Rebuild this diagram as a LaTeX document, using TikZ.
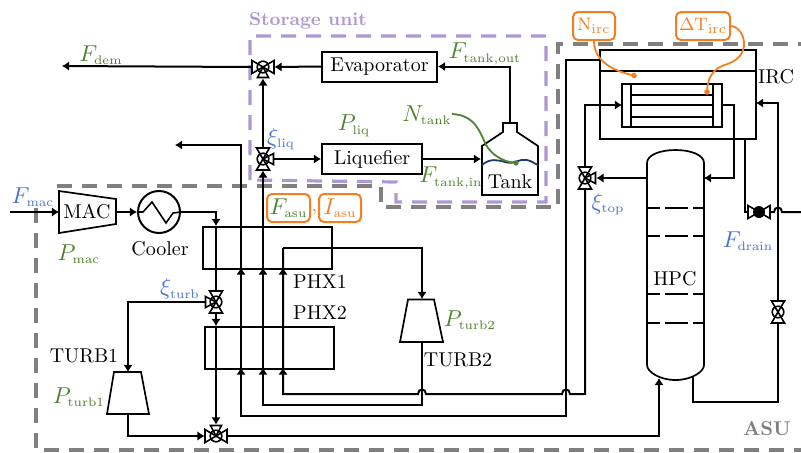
\RequirePackage{fix-cm}
\documentclass[tikz,border=0pt]{standalone}
\usetikzlibrary{arrows.meta,calc}
\DeclareMathSizes{10}{11.5}{6.2}{5}
\DeclareMathSizes{9}{9}{6.6}{5}
\definecolor{cblue}{HTML}{4A74CC}
\definecolor{cgreen}{HTML}{4F8231}
\definecolor{corange}{HTML}{F57F20}
\definecolor{cpurple}{HTML}{AE98D3}
\definecolor{cgray}{HTML}{808080}
\definecolor{cnavy}{HTML}{1F3A6B}
\tikzset{
  flow/.style={line width=1pt,-{Latex[length=3.6pt,width=4.8pt]}},
  plain/.style={line width=1pt},
  thin line/.style={line width=.75pt},
  boxnode/.style={draw,line width=1pt,inner sep=0pt,minimum height=15pt},
  valvenode/.style={circle,inner sep=0pt,minimum size=11pt},
  valveline/.style={line width=.8pt,fill=white},
  lbl/.style={inner sep=0pt},
  grn/.style={lbl,text=cgreen},
  blu/.style={lbl,text=cblue},
  org/.style={lbl,text=corange},
  obox/.style={draw=corange,line width=1pt,rounded corners=2.5pt,inner sep=0pt,minimum height=14pt},
  smallmath/.style={font=\fontsize{9}{11}\selectfont},
  asuline/.style={draw=cgray,line width=1.6pt,dash pattern=on 7.5pt off 5pt},
  stline/.style={draw=cpurple,line width=1.6pt,dash pattern=on 7.5pt off 5pt},
}
\newcommand{\valvetie}[2]{\begin{scope}[shift={(#1)},rotate=#2]
  \filldraw[valveline] (0,0)--(11,-6.5)--(11,6.5)--cycle;
  \filldraw[valveline] (0,0)--(-11,-6.5)--(-11,6.5)--cycle;
  \end{scope}}
\newcommand{\portv}[2]{\begin{scope}[shift={(#1)},rotate=#2]
  \filldraw[valveline] (0,0)--(10.5,-5.5)--(10.5,5.5)--cycle;
  \end{scope}}
\newcommand{\valvedisc}[1]{\draw[line width=.8pt] (#1) circle[radius=5.8];}
\begin{document}
\begin{tikzpicture}[x=.5pt,y=-.5pt]
\useasboundingbox (0,0) rectangle (801,452);
\begin{scope}
\clip (0,0) rectangle (801,452);
% enclosures
\draw[asuline] (57,186) -- (381,186) -- (381,207) -- (558,207) -- (558,44) -- (801,44);
\draw[asuline] (36,208) -- (36,450) -- (801,450);
\draw[stline] (250,180) -- (250,36) -- (546,36) -- (546,202) -- (396,202) -- (396,182) -- (250,180);
\node[lbl,text=cpurple,font=\fontsize{9.2}{11}\selectfont\bfseries] (storage) at (308,21) {Storage unit};
\node[lbl,text=cgray,font=\bfseries] (asu) at (767,429) {ASU};

% named nodes
\node[boxnode,minimum width=57.5pt] (evap) at (379.5,66.5) {Evaporator};
\node[boxnode,minimum width=50pt] (liq) at (372,159) {Liquefier};
\node[valvenode] (v1) at (263,67) {};
\node[valvenode] (v2) at (263,159) {};
\node[valvenode] (v3) at (585,178) {};
\node[valvenode] (v4) at (216,302) {};
\node[valvenode] (v5) at (216,436) {};
\node[valvenode] (v6) at (759,212) {};
\node[valvenode] (v7) at (778,312) {};
\node[circle,draw,line width=1pt,minimum size=21pt,inner sep=0pt] (cooler) at (159,212) {};
\coordinate (macW) at (59,212);
\coordinate (macE) at (116,212);
\coordinate (fmacin) at (10,212);
\coordinate (fdem) at (62,66);
\coordinate (fback) at (175,145);
\coordinate (tankW) at (481,159);
\coordinate (tankT) at (510,123);
\coordinate (t1top) at (128,372);
\coordinate (t1bot) at (128,414);
\coordinate (t2top) at (422,299);
\coordinate (t2bot) at (422,342);
\coordinate (ircL) at (600,60);
\coordinate (ircLow) at (745,139);
\coordinate (ircR) at (756,103);
\coordinate (hxL) at (622,105);
\coordinate (hxR) at (722,105);
\coordinate (hpcTL) at (647,178);
\coordinate (hpcTR) at (704,178);
\coordinate (hpcB1) at (659,378);
\coordinate (hpcB2) at (693,377);
\coordinate (edge) at (801,212);

% heat exchangers
\draw[line width=.8pt] (203,227) rectangle (332,269);
\draw[line width=.8pt] (205,327) rectangle (334,369);

% turbines, MAC
\draw[line width=.85pt] (59,191) -- (116,199) -- (116,224) -- (59,233) -- cycle;
\draw[line width=.85pt] (114,372) -- (141,372) -- (149,414) -- (107,414) -- cycle;
\draw[line width=.85pt] (408,299.5) -- (434,299.5) -- (443,342) -- (400,342) -- cycle;
\draw[line width=.8pt] (cooler.west) -- (143,212) -- (152,202) -- (166,223) -- (173,213) -- (cooler.east);

% connectors
\draw[flow] (fmacin) -- (macW);
\draw[flow] (macE) -- (cooler.west);
\draw[flow] (cooler.east) -- (216,212) -- (216,226);
\draw[plain] (216,226) -- (v4.north);
\draw[flow] (v4.south) -- (216,326);
\draw[flow] (216,326) -- (v5.north);
\draw[flow] (v4.west) -- (128,302) -- (t1top);
\draw[flow] (t1bot) -- (128,436) -- (v5.west);
\draw[flow] (v5.east) -- (659,436) -- (hpcB1);
\draw[flow] (v1.west) -- (fdem);
\draw[flow] (evap.west) -- (v1.east);
\draw[flow] (v2.north) -- (v1.south);
\draw[flow] (v2.east) -- (liq.west);
\draw[flow] (liq.east) -- (tankW);
\draw[flow] (tankT) -- (510,66.5) -- (evap.east);
\draw[flow] (t2bot) -- (422,405) -- (263,405) -- (v2.south);
\draw[flow] (ircL) -- (566,60) -- (566,415.5) -- (241,415.5) -- (241,145) -- (fback);
\draw[plain] (283,248) -- (283,394) -- (418,394) .. controls (418,388) and (426,388) .. (426,394)
   -- (562,394) .. controls (562,388) and (570,388) .. (570,394) -- (585,394) -- (v3.south);
\draw[flow] (283,248) -- (422,248) -- (t2top);
\draw[flow] (v3.north) -- (585,105) -- (hxL);
\draw[flow] (hxR) -- (734,105) -- (734,178) -- (hpcTR);
\draw[flow] (hpcTL) -- (v3.east);
\draw[plain] (ircLow) -- (745,212) -- (v6.west);
\draw[plain] (v6.east) -- (774,212) .. controls (774,206) and (782,206) .. (782,212) -- (edge);
\draw[flow] (v7.north) -- (778,103) -- (ircR);
\draw[plain] (v7.south) -- (778,402) -- (693,402) -- (hpcB2);

% tips on the exchanger edges
\foreach \px in {241,263,283} {
  \draw[flow] (\px,276) -- (\px,267.5);
  \draw[flow] (\px,378) -- (\px,367.5);
}

% valves
\valvetie{v1}{0}\portv{v1}{-90}\valvedisc{v1}
\valvetie{v2}{90}\portv{v2}{0}\valvedisc{v2}
\valvetie{v3}{90}\portv{v3}{0}\valvedisc{v3}
\valvetie{v4}{90}\portv{v4}{180}\valvedisc{v4}
\valvetie{v5}{0}\portv{v5}{90}\valvedisc{v5}
\valvetie{v6}{0}\fill (v6) circle[radius=6];
\valvetie{v7}{90}\valvedisc{v7}

% tank
\draw[line width=.85pt] (482,195) -- (482,146) -- (503,132) -- (503,123) -- (517,123) -- (517,132) -- (538,146) -- (538,195) -- cycle;
\draw[cnavy,line width=.9pt] (482,165) .. controls (490,158) and (498,160) .. (505,162) .. controls (514,165) and (520,158) .. (527,160) .. controls (532,161) and (535,164) .. (538,165);
\node[lbl] (tanktxt) at (510,182) {Tank};
\coordinate (ndot) at (516,163);
\coordinate (nstart) at (452,114);
\draw[cgreen,line width=.9pt] (nstart) .. controls (475,115) and (480,132) .. (486,145) .. controls (492,155) and (503,162) .. (ndot);
\fill[cgreen] (ndot) circle[radius=2.6];

% IRC
\draw[plain] (600,50) rectangle (756,71);
\draw[thin line] (600,71) -- (600,139) -- (756,139) -- (756,71);
\draw[plain] (622,84) rectangle (722,127);
\draw[plain] (631,84) -- (631,127);
\draw[plain] (713,84) -- (713,127);
\draw[thin line] (631,95) -- (713,95);
\draw[plain] (631,105) -- (713,105);
\draw[thin line] (631,117) -- (713,117);
\node[lbl] (irc) at (776,77) {IRC};

% HPC
\draw[line width=.85pt] (647,365) -- (647,163) .. controls (647,155) and (660,150) .. (675.5,150) .. controls (691,150) and (704,155) .. (704,163) -- (704,365) .. controls (704,372) and (691,380) .. (675.5,380) .. controls (660,380) and (647,372) .. (647,365) -- cycle;
\foreach \ty in {208,236,294,323} {
  \draw[line width=.85pt,dash pattern=on 11.5pt off 2.5pt,dash phase=5pt] (647,\ty) -- (704,\ty);
}
\node[lbl] (hpc) at (675,279) {HPC};

% labels
\node[lbl] (mac) at (87,212) {MAC};
\node[lbl] (coolertxt) at (160,249) {Cooler};
\node[lbl] (phx1) at (320,284) {\strut PHX1};
\node[lbl] (phx2) at (320,315) {\strut PHX2};
\node[lbl] (turb1) at (84,356) {TURB1};
\node[lbl] (turb2) at (458,360) {TURB2};
\node[grn] (l1) at (101,55) {$F_{\mathrm{dem}}$};
\node[blu] (l2) at (33,197) {$F_{\mathrm{mac}}$};
\node[grn] (l3) at (79,254) {$P_{\mathrm{mac}}$};
\node[grn] (l4) at (79,397) {$P_{\mathrm{turb1}}$};
\node[grn] (l5) at (470,320) {$P_{\mathrm{turb2}}$};
\node[grn] (l6) at (354,126) {$P_{\mathrm{liq}}$};
\node[grn] (l7) at (485,54) {$F_{\mathrm{tank,out}}$};
\node[grn] (l8) at (451,178) {$F_{\mathrm{tank,in}}$};
\node[grn] (l9) at (427,115) {$N_{\mathrm{tank}}$};
\node[blu] (l10) at (281,139) {$\xi_{\mathrm{liq}}$};
\node[blu] (l11) at (180,289) {$\xi_{\mathrm{turb}}$};
\node[blu] (l12) at (608,204) {$\xi_{\mathrm{top}}$};
\node[blu] (l13) at (748,241) {$F_{\mathrm{drain}}$};

% orange boxes
\node[obox,minimum width=21.5pt,text=cgreen] (fasu) at (288.5,208) {$F_{\mathrm{asu}}$};
\node[org] (comma) at (314.5,212) {,};
\node[obox,minimum width=21pt,text=corange] (iasu) at (340,208) {$I_{\mathrm{asu}}$};
\node[obox,smallmath,minimum width=21pt,text=corange] (nirc) at (594,26) {$\mathrm{N}_{\mathrm{irc}}$};
\node[obox,smallmath,minimum width=27pt,text=corange] (dtirc) at (703,26) {$\Delta\mathrm{T}_{\mathrm{irc}}$};
\coordinate (ndot2) at (634,75.5);
\coordinate (tdot) at (707,92);
\draw[corange,line width=.9pt] (nirc.south) .. controls (594,58) and (608,70) .. (ndot2);
\fill[corange] (ndot2) circle[radius=2.8];
\draw[corange,line width=.9pt] (dtirc.east) .. controls (740,27) and (745,38) .. (744,46) .. controls (742,60) and (730,63) .. (722,66) .. controls (712,70) and (707,80) .. (tdot);
\fill[corange] (tdot) circle[radius=2.8];
\end{scope}
\end{tikzpicture}
\end{document}
